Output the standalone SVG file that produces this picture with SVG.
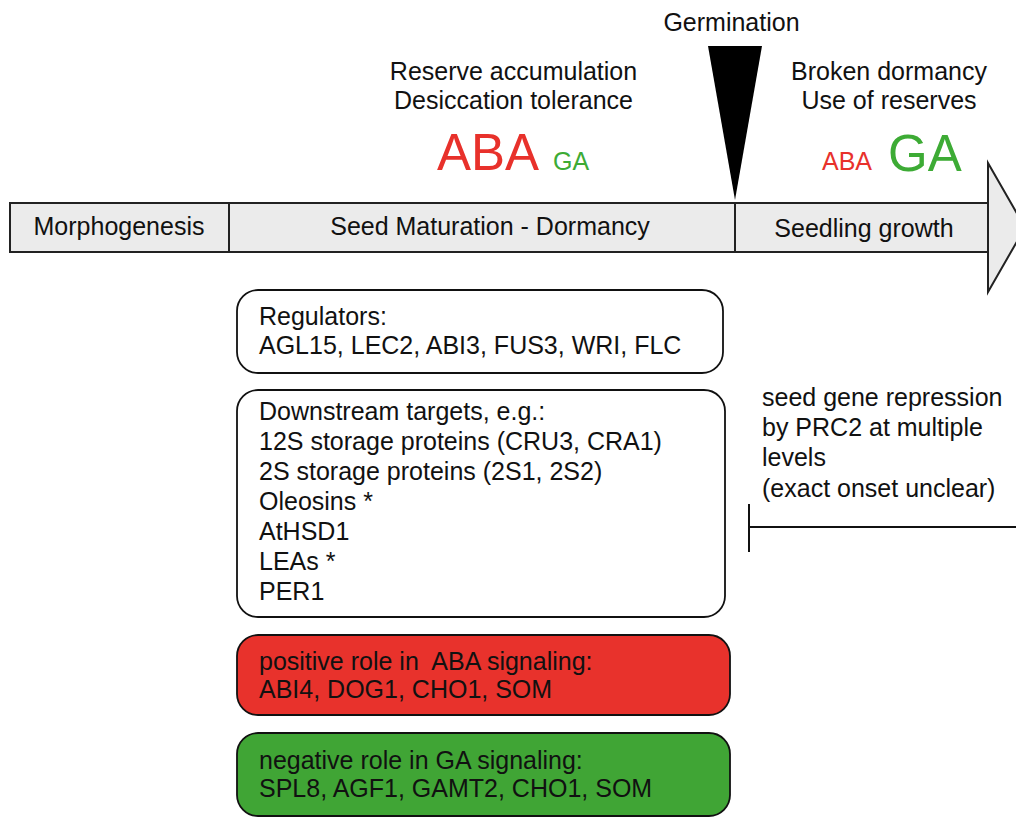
<svg xmlns="http://www.w3.org/2000/svg" width="1016" height="819" viewBox="0 0 1016 819">
<style>
text{font-family:"Liberation Sans",Arial,sans-serif;fill:#111}
.t{font-size:25px}
.c{text-anchor:middle}
.red{fill:#e8312b}
.grn{fill:#3dab35}
.box{stroke:#111;stroke-width:1.8}
.bar{fill:#ebebeb;stroke:#222;stroke-width:2}
</style>
<rect width="1016" height="819" fill="#fff"/>
<g id="timeline">
<path class="bar" d="M10,203 H988 V163 L1025,227.5 L988,292 V252 H10 Z"/>
<line x1="229" y1="203" x2="229" y2="252" stroke="#222" stroke-width="2"/>
<line x1="735" y1="203" x2="735" y2="252" stroke="#222" stroke-width="2"/>
<line x1="988" y1="203" x2="988" y2="252" stroke="#222" stroke-width="2"/>
<text class="t c" x="119" y="235">Morphogenesis</text>
<text class="t c" x="490" y="235">Seed Maturation - Dormancy</text>
<text class="t c" x="864" y="237">Seedling growth</text>
</g>
<g id="germination">
<polygon points="708,46 762,46 735,200" fill="#000"/>
<text class="t c" x="731.5" y="31">Germination</text>
</g>
<g id="phase-maturation">
<text class="t c" x="513.5" y="80">Reserve accumulation</text>
<text class="t c" x="513.5" y="109">Desiccation tolerance</text>
<text class="red" x="437" y="170" style="font-size:51px">ABA</text>
<text class="grn" x="553" y="170" style="font-size:25px">GA</text>
</g>
<g id="phase-seedling">
<text class="t c" x="889" y="80">Broken dormancy</text>
<text class="t c" x="889" y="109">Use of reserves</text>
<text class="red" x="822" y="170" style="font-size:25px">ABA</text>
<text class="grn" x="888" y="171" style="font-size:51px">GA</text>
</g>
<g id="regulators">
<rect class="box" x="237" y="290" width="486" height="83" rx="21" fill="#fff"/>
<text class="t" x="259" y="325">Regulators:</text>
<text class="t" x="259" y="354">AGL15, LEC2, ABI3, FUS3, WRI, FLC</text>
</g>
<g id="targets">
<rect class="box" x="237" y="390" width="488" height="227" rx="21" fill="#fff"/>
<text class="t" x="259" y="420">Downstream targets, e.g.:</text>
<text class="t" x="259" y="450">12S storage proteins (CRU3, CRA1)</text>
<text class="t" x="259" y="480">2S storage proteins (2S1, 2S2)</text>
<text class="t" x="259" y="510">Oleosins *</text>
<text class="t" x="259" y="540">AtHSD1</text>
<text class="t" x="259" y="570">LEAs *</text>
<text class="t" x="259" y="600">PER1</text>
</g>
<g id="aba-positive">
<rect class="box" x="237" y="635" width="493" height="80" rx="21" fill="#e8322c"/>
<text class="t" x="259" y="670" xml:space="preserve">positive role in  ABA signaling:</text>
<text class="t" x="259" y="698">ABI4, DOG1, CHO1, SOM</text>
</g>
<g id="ga-negative">
<rect class="box" x="237" y="733" width="493" height="83" rx="21" fill="#40a535"/>
<text class="t" x="259" y="769">negative role in GA signaling:</text>
<text class="t" x="259" y="797">SPL8, AGF1, GAMT2, CHO1, SOM</text>
</g>
<g id="prc2">
<text class="t" x="762" y="406">seed gene repression</text>
<text class="t" x="762" y="436">by PRC2 at multiple</text>
<text class="t" x="762" y="466">levels</text>
<text class="t" x="762" y="497">(exact onset unclear)</text>
</g>
<g id="connectors">
<line x1="749" y1="527" x2="1016" y2="527" stroke="#111" stroke-width="1.8"/>
<line x1="749" y1="504" x2="749" y2="552" stroke="#111" stroke-width="2"/>
</g>
</svg>
